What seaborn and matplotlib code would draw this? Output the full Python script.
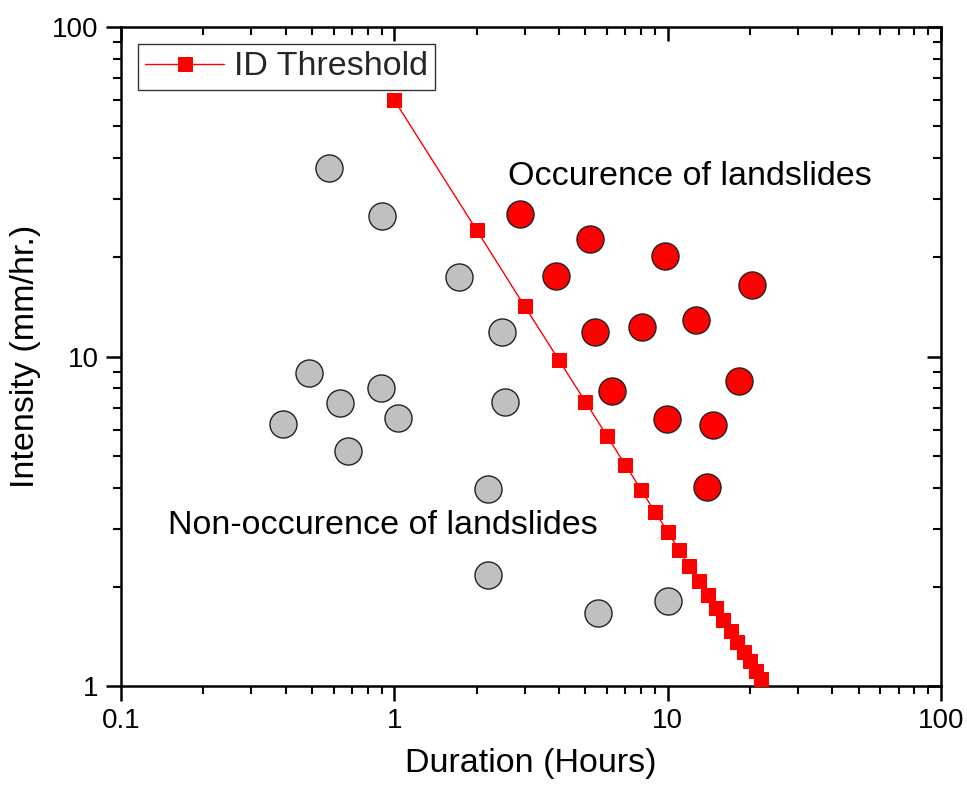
import matplotlib
matplotlib.use("Agg")
import matplotlib.pyplot as plt
import seaborn as sns
import pandas as pd
from matplotlib.ticker import LogLocator, NullFormatter, FixedLocator, FixedFormatter

# ---- data ----
threshold_duration = [1, 2, 3, 4, 5, 6, 7, 8, 9, 10, 11, 12, 13, 14, 15, 16, 17, 18, 19, 20, 21, 22]
threshold_intensity = [60, 24.2, 14.2, 9.76, 7.29, 5.74, 4.69, 3.94, 3.37, 2.94, 2.59, 2.31,
                       2.08, 1.89, 1.73, 1.59, 1.47, 1.36, 1.27, 1.19, 1.11, 1.05]

non_duration = [0.578, 0.904, 1.73, 2.48, 0.489, 0.896, 0.634, 0.393, 1.03, 0.679, 2.55, 2.21, 2.21, 5.58, 10.06]
non_intensity = [37.3, 26.7, 17.4, 11.9, 8.91, 8.02, 7.22, 6.24, 6.51, 5.17, 7.28, 3.96, 2.17, 1.67, 1.81]

occ_duration = [2.89, 5.21, 9.81, 20.4, 3.91, 5.4, 8.08, 12.66, 6.28, 18.3, 9.95, 14.6, 13.97]
occ_intensity = [27.1, 22.7, 20.2, 16.5, 17.6, 11.9, 12.3, 12.9, 7.85, 8.45, 6.45, 6.19, 4.03]

x_ticks = [0.1, 1, 10, 100]
x_tick_labels = ["0.1", "1", "10", "100"]
y_ticks = [1, 10, 100]
y_tick_labels = ["1", "10", "100"]

sns.set_theme(style="white")
plt.rcParams['font.family'] = ['Liberation Sans', 'DejaVu Sans']

fig = plt.figure(figsize=(9.67, 7.87), dpi=100)
ax = fig.add_axes([0.1251, 0.1283, 0.8480, 0.8374])

df_non = pd.DataFrame({"Duration": non_duration, "Intensity": non_intensity})
df_occ = pd.DataFrame({"Duration": occ_duration, "Intensity": occ_intensity})
df_thr = pd.DataFrame({"Duration": threshold_duration, "Intensity": threshold_intensity})

sns.scatterplot(data=df_non, x="Duration", y="Intensity", ax=ax, s=380,
                color="#C0C0C0", edgecolor="#222222", linewidth=1.0, zorder=3, legend=False)
sns.scatterplot(data=df_occ, x="Duration", y="Intensity", ax=ax, s=380,
                color="#FF0000", edgecolor="#222222", linewidth=1.0, zorder=3, legend=False)
sns.lineplot(data=df_thr, x="Duration", y="Intensity", ax=ax, color="#FF0000",
             linewidth=1.0, marker="s", markersize=10, markeredgecolor="#FF0000",
             label="ID Threshold", zorder=4, estimator=None, sort=False)

ax.set_xscale("log")
ax.set_yscale("log")
ax.set_xlim(0.1, 100)
ax.set_ylim(1, 100)

ax.xaxis.set_major_locator(FixedLocator(x_ticks))
ax.xaxis.set_major_formatter(FixedFormatter(x_tick_labels))
ax.yaxis.set_major_locator(FixedLocator(y_ticks))
ax.yaxis.set_major_formatter(FixedFormatter(y_tick_labels))
ax.xaxis.set_minor_locator(LogLocator(base=10, subs=range(2, 10)))
ax.yaxis.set_minor_locator(LogLocator(base=10, subs=range(2, 10)))
ax.xaxis.set_minor_formatter(NullFormatter())
ax.yaxis.set_minor_formatter(NullFormatter())

ax.tick_params(which="major", direction="out", length=11, width=1.8, labelsize=20,
               color="black", labelcolor="black", pad=5)
ax.tick_params(which="minor", direction="out", length=6, width=1.5, color="black",
               bottom=True, left=True)

for sp in ax.spines.values():
    sp.set_color("black")
    sp.set_linewidth(1.8)

# mirrored inward ticks on top and right
axt = ax.twiny()
axt.set_xscale("log")
axt.set_xlim(0.1, 100)
axt.xaxis.set_major_locator(FixedLocator(x_ticks))
axt.xaxis.set_minor_locator(LogLocator(base=10, subs=range(2, 10)))
axt.xaxis.set_minor_formatter(NullFormatter())
axt.tick_params(axis="x", which="major", direction="in", length=10, width=1.8, labeltop=False, color="black")
axt.tick_params(axis="x", which="minor", direction="in", length=6, width=1.5, color="black", top=True)
axr = ax.twinx()
axr.set_yscale("log")
axr.set_ylim(1, 100)
axr.yaxis.set_major_locator(FixedLocator(y_ticks))
axr.yaxis.set_minor_locator(LogLocator(base=10, subs=range(2, 10)))
axr.yaxis.set_minor_formatter(NullFormatter())
axr.tick_params(axis="y", which="major", direction="in", length=10, width=1.8, labelright=False, color="black")
axr.tick_params(axis="y", which="minor", direction="in", length=6, width=1.5, color="black", right=True)
for a in (axt, axr):
    for sp in a.spines.values():
        sp.set_visible(False)
    a.grid(False)

ax.set_xlabel("Duration (Hours)", fontsize=24.5, color="black", labelpad=10)
ax.set_ylabel("Intensity (mm/hr.)", fontsize=24.5, color="black", labelpad=8)
ax.grid(False)

ax.text(0.057, 0.244, "Non-occurence of landslides", transform=ax.transAxes,
        fontsize=24.5, color="black", va="center", ha="left")
ax.text(0.472, 0.773, "Occurence of landslides", transform=ax.transAxes,
        fontsize=24.5, color="black", va="center", ha="left")

leg = ax.legend(loc="upper left", fontsize=24.5, frameon=True, fancybox=False,
                edgecolor="#333333", framealpha=1, borderpad=0.22, handlelength=2.3,
                handletextpad=0.3, borderaxespad=0.5)
leg.get_frame().set_linewidth(1.0)

fig.savefig("out.png", dpi=100)
